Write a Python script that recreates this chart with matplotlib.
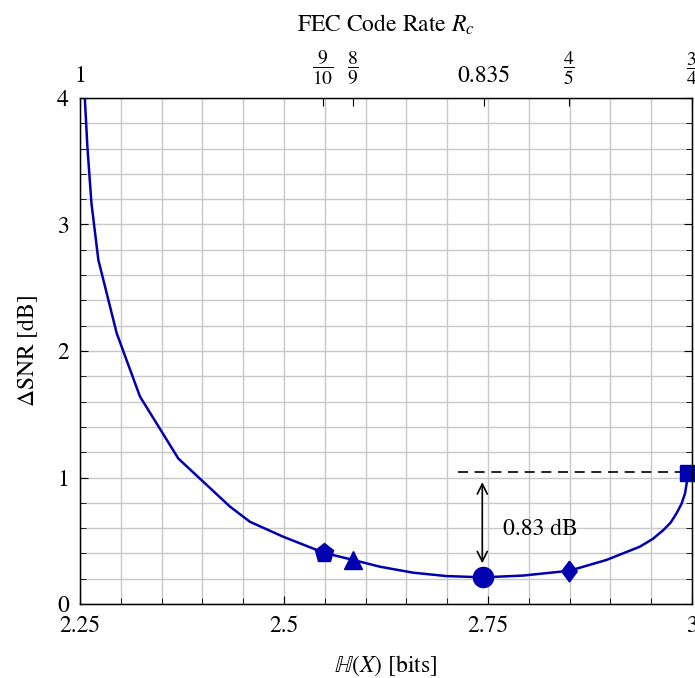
import matplotlib
matplotlib.use("Agg")
import matplotlib.pyplot as plt
import matplotlib.ticker as ticker

plt.rcParams['font.family'] = ['STIXGeneral', 'DejaVu Serif']
plt.rcParams['mathtext.fontset'] = 'stix'

# curve: entropy H(X) [bits] vs SNR gap [dB]
h_vals = [2.2555, 2.259, 2.264, 2.2725, 2.295, 2.3235, 2.3705, 2.4338, 2.4583, 2.499,
          2.549, 2.585, 2.6176, 2.658, 2.699, 2.744, 2.793, 2.8497, 2.895, 2.936,
          2.952, 2.965, 2.974, 2.981, 2.987, 2.9915, 2.9955]
snr_vals = [4.05, 3.62, 3.17, 2.72, 2.14, 1.64, 1.15, 0.77, 0.65, 0.532,
            0.405, 0.348, 0.295, 0.248, 0.221, 0.211, 0.225, 0.263, 0.348, 0.453,
            0.515, 0.585, 0.645, 0.717, 0.79, 0.875, 1.038]

# operating points per code rate
pts_h = [2.549, 2.585, 2.744, 2.8497, 2.9945]
pts_snr = [0.405, 0.348, 0.211, 0.263, 1.038]
diamond = [(0, 1), (0.75, 0), (0, -1), (-0.75, 0), (0, 1)]
pts_marker = ['p', '^', 'o', diamond, 's']
pts_size = [14, 13, 14.5, 15, 11]

# top axis: code rates
rate_pos = [2.25, 2.548, 2.585, 2.745, 2.849, 3.0]
rate_labels = ['1', r'$\dfrac{9}{10}$', r'$\dfrac{8}{9}$', '0.835', r'$\dfrac{4}{5}$', r'$\dfrac{3}{4}$']

blue = '#0000b0'

fig = plt.figure(figsize=(6.95, 6.78), dpi=100)
ax = fig.add_axes([0.1151, 0.1091, 0.8806, 0.7464])

ax.plot(h_vals, snr_vals, color=blue, lw=1.8, zorder=3)
for h, s, m, ms in zip(pts_h, pts_snr, pts_marker, pts_size):
    ax.plot(h, s, marker=m, ms=ms, color=blue, ls='none', zorder=4, clip_on=False)

# gap annotation
ax.plot([2.7137, 2.994], [1.04, 1.04], 'k--', lw=1.2, dashes=(6, 4), zorder=3)
ax.annotate('', xy=(2.743, 0.30), xytext=(2.743, 0.985),
            arrowprops=dict(arrowstyle='<->', color='k', lw=1.2, mutation_scale=18))
ax.text(2.768, 0.59, '0.83 dB', fontsize=17, va='center', ha='left')

ax.set_xlim(2.25, 3.0)
ax.set_ylim(0, 4)
ax.xaxis.set_major_locator(ticker.FixedLocator([2.25, 2.5, 2.75, 3.0]))
ax.xaxis.set_major_formatter(ticker.FixedFormatter(['2.25', '2.5', '2.75', '3']))
ax.xaxis.set_minor_locator(ticker.MultipleLocator(0.05))
ax.yaxis.set_major_locator(ticker.MultipleLocator(1))
ax.yaxis.set_minor_locator(ticker.MultipleLocator(0.2))
ax.grid(True, which='both', color='#c8c8c8', lw=1.0)
ax.set_axisbelow(True)
ax.tick_params(which='both', direction='in', right=True, labelsize=17)
ax.tick_params(axis='x', which='major', pad=8)
ax.tick_params(axis='y', which='major', pad=8)
ax.tick_params(which='major', length=6)
ax.tick_params(which='minor', length=4)
ax.set_xlabel(r'$\mathbb{H}(X)$ [bits]', fontsize=17, labelpad=12)
ax.set_ylabel(r'$\Delta$SNR [dB]', fontsize=17, labelpad=12)
for sp in ax.spines.values():
    sp.set_linewidth(1.0)

top = ax.twiny()
top.set_xlim(ax.get_xlim())
top.set_xticks(rate_pos)
top.set_xticklabels(rate_labels)
top.tick_params(direction='in', length=6, labelsize=17, pad=8)
for lbl in top.get_xticklabels():
    if 'frac' in lbl.get_text():
        lbl.set_fontsize(14)
top.set_xlabel(r'FEC Code Rate $R_c$', fontsize=17, labelpad=12)

fig.savefig('out.png', dpi=100)
